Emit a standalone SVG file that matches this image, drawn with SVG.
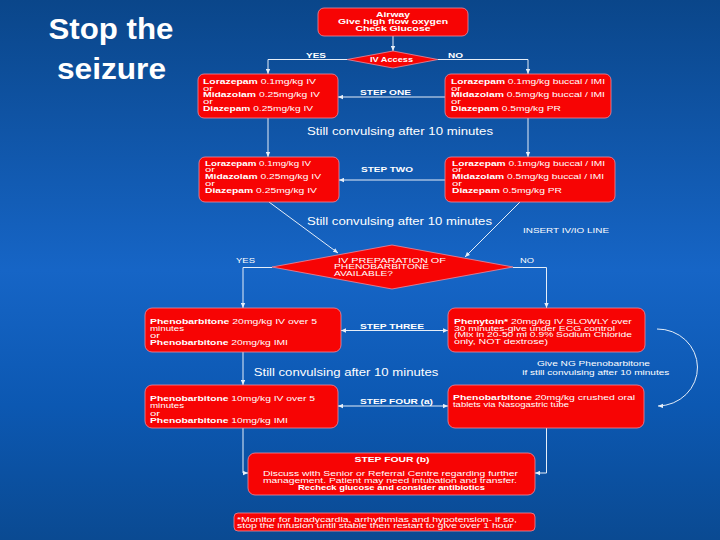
<svg xmlns="http://www.w3.org/2000/svg" width="720" height="540" viewBox="0 0 720 540">
<defs>
<linearGradient id="bg" x1="0" y1="0" x2="0" y2="1">
<stop offset="0" stop-color="#0a468a"/>
<stop offset="0.5" stop-color="#1665c6"/>
<stop offset="0.75" stop-color="#0c58b2"/>
<stop offset="1" stop-color="#0a4a92"/>
</linearGradient>
<marker id="ah" viewBox="0 0 8 8" refX="8" refY="4" markerWidth="5" markerHeight="5" orient="auto-start-reverse" markerUnits="userSpaceOnUse">
<path d="M0,0.5 L8,4 L0,7.5z" fill="#e6eef8"/>
</marker>
<style>
.box{fill:#f70404;stroke:#f08a9a;stroke-width:0.8}
.t{font-family:"Liberation Sans",Arial,sans-serif;font-size:6.6px;fill:#fff}
.b{font-weight:bold}
.c{text-anchor:middle}
.big{font-size:10.5px}
.ttl{font-family:"Liberation Sans",Arial,sans-serif;font-size:29px;font-weight:bold;fill:#fff;text-anchor:middle}
.ln{stroke:#e6eef8;stroke-width:1;fill:none}
.ae{marker-end:url(#ah)}
.ab{marker-start:url(#ah);marker-end:url(#ah)}
</style>
</defs>
<rect width="720" height="540" fill="url(#bg)"/>
<g id="title">
<text class="ttl" x="111" y="39" textLength="125" lengthAdjust="spacingAndGlyphs">Stop the</text>
<text class="ttl" x="111.5" y="79" textLength="109" lengthAdjust="spacingAndGlyphs">seizure</text>
</g>
<g id="connectors">
<path class="ln ae" d="M393,36 V51"/>
<path class="ln ae" d="M347,59.5 H268 V74"/>
<path class="ln ae" d="M438,59.5 H528 V74"/>
<path class="ln ae" d="M445,97 H338"/>
<path class="ln ae" d="M268,118 V157"/>
<path class="ln ae" d="M528,118 V157"/>
<path class="ln ae" d="M445,180 H339"/>
<path class="ln ae" d="M269,202 L338,253"/>
<path class="ln ae" d="M520,202 L465,257"/>
<path class="ln ae" d="M272,267.5 H243 V308"/>
<path class="ln ae" d="M513,267.5 H546.5 V308"/>
<path class="ln ab" d="M341,330.5 H448"/>
<path class="ln ae" d="M243,352 V385"/>
<path class="ln ab" d="M338,406 H448"/>
<path class="ln ae" d="M657,329 A40,38.5 0 0 1 658,406"/>
<path class="ln ae" d="M243,428 V473 H248"/>
<path class="ln ae" d="M546.5,428 V473 H535"/>
</g>
<g id="labels">
<text class="t b c" x="316" y="57.5" textLength="20" lengthAdjust="spacingAndGlyphs">YES</text>
<text class="t b c" x="455.5" y="57.5" textLength="15" lengthAdjust="spacingAndGlyphs">NO</text>
<text class="t b c" x="385.5" y="94.5" textLength="51" lengthAdjust="spacingAndGlyphs">STEP ONE</text>
<text class="t big c" x="400" y="135" textLength="186" lengthAdjust="spacingAndGlyphs">Still convulsing after 10 minutes</text>
<text class="t b c" x="387" y="171.5" textLength="52" lengthAdjust="spacingAndGlyphs">STEP TWO</text>
<text class="t big c" x="399.5" y="225" textLength="185" lengthAdjust="spacingAndGlyphs">Still convulsing after 10 minutes</text>
<text class="t" x="523" y="232.5" textLength="86" lengthAdjust="spacingAndGlyphs">INSERT IV/IO LINE</text>
<text class="t c" x="245.5" y="262.5" textLength="19" lengthAdjust="spacingAndGlyphs">YES</text>
<text class="t c" x="527" y="262.5" textLength="14" lengthAdjust="spacingAndGlyphs">NO</text>
<text class="t b c" x="392" y="328.5" textLength="64" lengthAdjust="spacingAndGlyphs">STEP THREE</text>
<text class="t big c" x="346" y="375.5" textLength="184.5" lengthAdjust="spacingAndGlyphs">Still convulsing after 10 minutes</text>
<text class="t c" x="593.5" y="366" textLength="113" lengthAdjust="spacingAndGlyphs">Give NG Phenobarbitone</text>
<text class="t c" x="595.8" y="374.5" textLength="147" lengthAdjust="spacingAndGlyphs">if still convulsing after 10 minutes</text>
<text class="t b c" x="396.5" y="404" textLength="73" lengthAdjust="spacingAndGlyphs">STEP FOUR (a)</text>
</g>
<g id="airway">
<rect class="box" x="318" y="8" width="150" height="28" rx="6"/>
<text class="t b c" x="393" y="16.5" textLength="34" lengthAdjust="spacingAndGlyphs">Airway</text>
<text class="t b c" x="393" y="23.5" textLength="110" lengthAdjust="spacingAndGlyphs">Give high flow oxygen</text>
<text class="t b c" x="393" y="30.5" textLength="75" lengthAdjust="spacingAndGlyphs">Check Glucose</text>
</g>
<g id="iv-access">
<polygon class="box" points="347,59.5 393,51 438,59.5 393,68"/>
<text class="t b c" x="391.5" y="62" textLength="43" lengthAdjust="spacingAndGlyphs">IV Access</text>
</g>
<g id="step1-iv">
<rect class="box" x="198" y="74" width="140" height="44" rx="6"/>
<text class="t" x="203" y="83.5" textLength="113" lengthAdjust="spacingAndGlyphs"><tspan class="b">Lorazepam</tspan> 0.1mg/kg IV</text>
<text class="t" x="203" y="90.5" textLength="10" lengthAdjust="spacingAndGlyphs">or</text>
<text class="t" x="203" y="97" textLength="117" lengthAdjust="spacingAndGlyphs"><tspan class="b">Midazolam</tspan> 0.25mg/kg IV</text>
<text class="t" x="203" y="103.5" textLength="10" lengthAdjust="spacingAndGlyphs">or</text>
<text class="t" x="203" y="110.5" textLength="110" lengthAdjust="spacingAndGlyphs"><tspan class="b">Diazepam</tspan> 0.25mg/kg IV</text>
</g>
<g id="step1-noiv">
<rect class="box" x="445" y="74" width="166" height="44" rx="6"/>
<text class="t" x="451" y="83.5" textLength="154" lengthAdjust="spacingAndGlyphs"><tspan class="b">Lorazepam</tspan> 0.1mg/kg buccal / IMI</text>
<text class="t" x="451" y="90.5" textLength="10" lengthAdjust="spacingAndGlyphs">or</text>
<text class="t" x="451" y="97" textLength="154" lengthAdjust="spacingAndGlyphs"><tspan class="b">Midazolam</tspan> 0.5mg/kg buccal / IMI</text>
<text class="t" x="451" y="103.5" textLength="10" lengthAdjust="spacingAndGlyphs">or</text>
<text class="t" x="451" y="110.5" textLength="110" lengthAdjust="spacingAndGlyphs"><tspan class="b">Diazepam</tspan> 0.5mg/kg PR</text>
</g>
<g id="step2-iv">
<rect class="box" x="199" y="157" width="140" height="45" rx="6"/>
<text class="t" x="205" y="165.5" textLength="106" lengthAdjust="spacingAndGlyphs"><tspan class="b">Lorazepam</tspan> 0.1mg/kg IV</text>
<text class="t" x="205" y="172.3" textLength="10" lengthAdjust="spacingAndGlyphs">or</text>
<text class="t" x="205" y="179" textLength="116" lengthAdjust="spacingAndGlyphs"><tspan class="b">Midazolam</tspan> 0.25mg/kg IV</text>
<text class="t" x="205" y="185.8" textLength="10" lengthAdjust="spacingAndGlyphs">or</text>
<text class="t" x="205" y="192.5" textLength="112" lengthAdjust="spacingAndGlyphs"><tspan class="b">Diazepam</tspan> 0.25mg/kg IV</text>
</g>
<g id="step2-noiv">
<rect class="box" x="445" y="157" width="170" height="45" rx="6"/>
<text class="t" x="452" y="165.5" textLength="153" lengthAdjust="spacingAndGlyphs"><tspan class="b">Lorazepam</tspan> 0.1mg/kg buccal / IMI</text>
<text class="t" x="452" y="172.3" textLength="10" lengthAdjust="spacingAndGlyphs">or</text>
<text class="t" x="452" y="179" textLength="152" lengthAdjust="spacingAndGlyphs"><tspan class="b">Midazolam</tspan> 0.5mg/kg buccal / IMI</text>
<text class="t" x="452" y="185.8" textLength="10" lengthAdjust="spacingAndGlyphs">or</text>
<text class="t" x="452" y="192.5" textLength="110" lengthAdjust="spacingAndGlyphs"><tspan class="b">Diazepam</tspan> 0.5mg/kg PR</text>
</g>
<g id="pheno-decision">
<polygon class="box" points="272,267 392,245 513,267 392,289"/>
<text class="t" x="338" y="262.5" textLength="108" lengthAdjust="spacingAndGlyphs">IV PREPARATION  OF</text>
<text class="t" x="334" y="269" textLength="95" lengthAdjust="spacingAndGlyphs">PHENOBARBITONE</text>
<text class="t" x="334" y="275.5" textLength="59" lengthAdjust="spacingAndGlyphs">AVAILABLE?</text>
</g>
<g id="step3-pheno">
<rect class="box" x="145" y="308" width="196" height="44" rx="7"/>
<text class="t" x="150" y="324" textLength="167" lengthAdjust="spacingAndGlyphs"><tspan class="b">Phenobarbitone</tspan> 20mg/kg IV over 5</text>
<text class="t" x="150" y="331" textLength="34" lengthAdjust="spacingAndGlyphs">minutes</text>
<text class="t" x="150" y="337.5" textLength="10" lengthAdjust="spacingAndGlyphs">or</text>
<text class="t" x="150" y="344.5" textLength="138" lengthAdjust="spacingAndGlyphs"><tspan class="b">Phenobarbitone</tspan> 20mg/kg IMI</text>
</g>
<g id="step3-phenytoin">
<rect class="box" x="448" y="308" width="197" height="44" rx="7"/>
<text class="t" x="454" y="324" textLength="177.7" lengthAdjust="spacingAndGlyphs"><tspan class="b">Phenytoin*</tspan> 20mg/kg IV SLOWLY over</text>
<text class="t" x="454" y="330.5" textLength="161" lengthAdjust="spacingAndGlyphs">30 minutes-give under ECG control</text>
<text class="t" x="454" y="337" textLength="178" lengthAdjust="spacingAndGlyphs">(Mix in 20-50 ml 0.9% Sodium Chloride</text>
<text class="t" x="454" y="344" textLength="94" lengthAdjust="spacingAndGlyphs">only, NOT  dextrose)</text>
</g>
<g id="step4a-pheno">
<rect class="box" x="145" y="385" width="193" height="43" rx="7"/>
<text class="t" x="150" y="400.5" textLength="165" lengthAdjust="spacingAndGlyphs"><tspan class="b">Phenobarbitone</tspan> 10mg/kg IV over 5</text>
<text class="t" x="150" y="408" textLength="34" lengthAdjust="spacingAndGlyphs">minutes</text>
<text class="t" x="150" y="415.5" textLength="10" lengthAdjust="spacingAndGlyphs">or</text>
<text class="t" x="150" y="423" textLength="138" lengthAdjust="spacingAndGlyphs"><tspan class="b">Phenobarbitone</tspan> 10mg/kg IMI</text>
</g>
<g id="step4a-ng">
<rect class="box" x="448" y="385" width="196" height="43" rx="7"/>
<text class="t" x="453" y="400" textLength="182" lengthAdjust="spacingAndGlyphs"><tspan class="b">Phenobarbitone</tspan> 20mg/kg crushed oral</text>
<text class="t" x="453" y="407" textLength="116" lengthAdjust="spacingAndGlyphs">tablets via Nasogastric tube</text>
</g>
<g id="step4b">
<rect class="box" x="248" y="453" width="287" height="42" rx="7"/>
<text class="t b c" x="392" y="461.5" textLength="75" lengthAdjust="spacingAndGlyphs">STEP FOUR (b)</text>
<text class="t c" x="390.5" y="475.5" textLength="255" lengthAdjust="spacingAndGlyphs">Discuss with Senior or Referral Centre regarding further</text>
<text class="t c" x="390" y="482.5" textLength="254" lengthAdjust="spacingAndGlyphs">management. Patient may need intubation and transfer.</text>
<text class="t b c" x="391.5" y="489.5" textLength="187" lengthAdjust="spacingAndGlyphs">Recheck glucose and consider antibiotics</text>
</g>
<g id="footnote">
<rect class="box" x="234" y="513" width="301" height="18" rx="4"/>
<text class="t" x="237" y="521.5" textLength="280" lengthAdjust="spacingAndGlyphs">*Monitor for bradycardia, arrhythmias and hypotension- if so,</text>
<text class="t" x="237" y="528" textLength="276" lengthAdjust="spacingAndGlyphs">stop the infusion until stable then restart to give over 1 hour</text>
</g>
</svg>
